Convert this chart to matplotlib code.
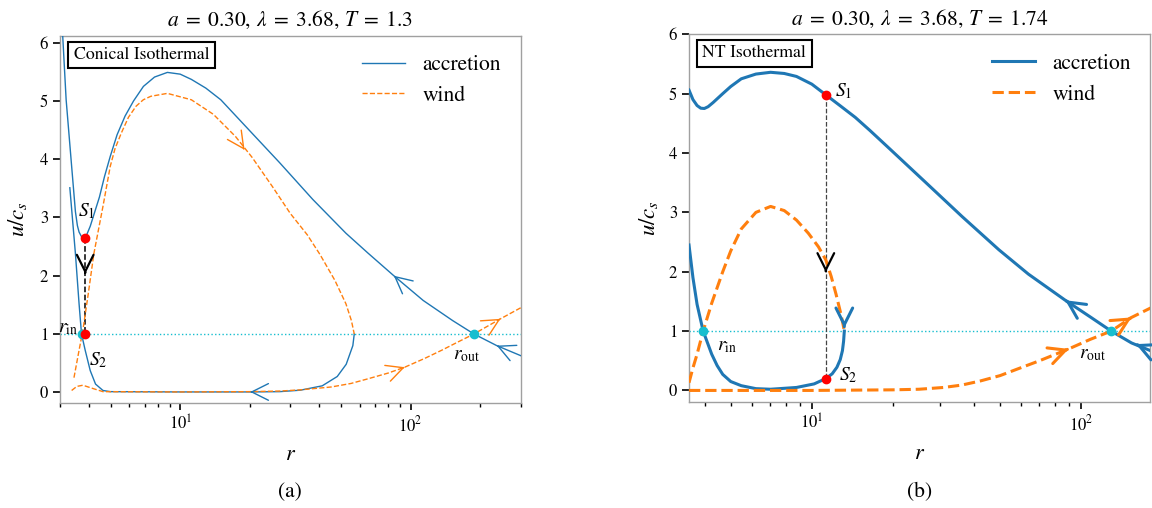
import numpy as np
import matplotlib
matplotlib.use('Agg')
import matplotlib.pyplot as plt

plt.rcParams['font.family'] = ['STIXGeneral', 'DejaVu Serif']
plt.rcParams['mathtext.fontset'] = 'stix'

# ---------------- panel (a): Conical Isothermal ----------------
a_title = r"$a\;=\;0.30,\,\lambda\;=\;3.68,\,T\;=\;1.3$"
a_box = "Conical Isothermal"
a_xlim = (3, 300)
a_ylim = (-0.19, 6.12)

a_acc1_r = [3.08, 3.19, 3.37, 3.50, 3.57, 3.63, 3.72, 3.81, 3.86, 4.06, 4.45, 4.68, 4.96, 5.31, 5.75,
            6.26, 6.91, 7.72, 8.78, 9.98, 11.16, 12.9, 14.98, 20.10, 26.98, 37.57, 52.33, 65.2, 84.5,
            113.4, 152.2, 188.3, 236.6, 304]
a_acc1_u = [6.14, 5.02, 3.88, 3.10, 2.86, 2.75, 2.67, 2.645, 2.64, 2.85, 3.35, 3.70, 4.05, 4.42, 4.74,
            5.00, 5.25, 5.41, 5.49, 5.46, 5.37, 5.22, 5.02, 4.48, 3.94, 3.31, 2.73, 2.39, 2.00,
            1.575, 1.23, 1.00, 0.80, 0.62]

a_acc2_r = [3.31, 3.50, 3.63, 3.72, 3.86, 4.06, 4.28, 4.61, 4.96, 10.0, 20.0, 26.98, 33.2, 41.3, 48.0,
            52.5, 56.1, 56.9]
a_acc2_u = [3.51, 2.38, 1.52, 1.00, 0.72, 0.37, 0.14, 0.03, 0.01, 0.005, 0.005, 0.01, 0.035, 0.11, 0.27,
            0.48, 0.80, 1.00]

a_wind1_r = [3.45, 3.63, 3.77, 3.98, 4.21, 4.61, 4.96, 5.2, 5.54, 5.95, 6.42, 6.9, 7.44, 8.78, 11.16,
             13.91, 17.35, 20.5, 25.1, 30.0, 35.6, 40.45, 46.88, 52.33, 55.3, 56.9]
a_wind1_u = [0.25, 0.72, 1.06, 1.69, 2.38, 3.19, 3.88, 4.18, 4.45, 4.72, 4.91, 5.02, 5.08, 5.13, 5.02,
             4.77, 4.39, 4.03, 3.53, 3.07, 2.70, 2.36, 1.92, 1.52, 1.23, 1.00]

a_wind2_r = [3.37, 3.55, 3.77, 4.2, 4.61, 10.0, 20.0, 26.98, 33.0, 45.17, 55.0, 65.2, 80.0, 94.3, 115.0,
             136.3, 160.0, 188.3, 245.5, 304]
a_wind2_u = [0.03, 0.10, 0.12, 0.06, 0.01, 0.005, 0.01, 0.02, 0.04, 0.09, 0.15, 0.23, 0.33, 0.43, 0.58,
             0.72, 0.86, 1.00, 1.26, 1.46]

a_S_r = [3.86, 3.86]
a_S_u = [2.64, 1.00]
a_sonic_r = [3.72, 188.3]
a_sonic_u = [1.0, 1.0]

# arrows: (tip_r, tip_u, from_r, from_u)
a_arrows_acc = [(84.5, 2.00, 100.0, 1.76), (236.6, 0.80, 270.0, 0.70), (20.1, 0.005, 24.0, 0.005)]
a_arrows_wind = [(19.0, 4.16, 17.35, 4.39), (94.3, 0.43, 80.0, 0.33), (245.5, 1.26, 220.0, 1.15)]
a_arrow_shock = (3.86, 2.03, 3.86, 2.30)

# ---------------- panel (b): NT Isothermal ----------------
b_title = r"$a\;=\;0.30,\,\lambda\;=\;3.68,\,T\;=\;1.74$"
b_box = "NT Isothermal"
b_xlim = (3.5, 180)
b_ylim = (-0.2, 6.0)

b_acc1_r = [3.50, 3.62, 3.75, 3.87, 3.99, 4.12, 4.30, 4.67, 5.0, 5.47, 6.2, 7.03, 7.9, 8.77, 10.0,
            11.27, 12.71, 14.50, 16.43, 19.25, 26.38, 36.11, 49.47, 63.65, 87.2, 108.7, 129.2, 153.7, 183]
b_acc1_u = [5.06, 4.90, 4.80, 4.755, 4.75, 4.78, 4.85, 5.00, 5.12, 5.25, 5.33, 5.36, 5.34, 5.29, 5.16,
            4.98, 4.80, 4.60, 4.38, 4.09, 3.51, 2.93, 2.37, 1.96, 1.52, 1.23, 1.00, 0.80, 0.66]

b_acc2_r = [3.50, 3.62, 3.75, 3.95, 4.25, 4.45, 4.67, 5.0, 5.47, 6.2, 7.03, 8.77, 10.2, 11.27, 11.9,
            12.39, 12.75, 12.99, 13.12, 13.20]
b_acc2_u = [2.45, 1.90, 1.45, 1.00, 0.61, 0.42, 0.27, 0.15, 0.08, 0.03, 0.02, 0.05, 0.11, 0.20, 0.28,
            0.39, 0.52, 0.67, 0.83, 1.00]

b_wind1_r = [3.50, 3.62, 3.75, 3.95, 4.25, 4.67, 5.0, 5.47, 6.2, 7.03, 7.9, 8.77, 9.7, 10.58, 11.27,
             11.8, 12.3, 12.8, 13.05, 13.20]
b_wind1_u = [0.13, 0.38, 0.61, 1.00, 1.47, 2.00, 2.35, 2.72, 3.00, 3.10, 3.03, 2.87, 2.65, 2.42, 2.20,
             1.92, 1.62, 1.30, 1.12, 1.00]

b_wind2_r = [3.50, 10.0, 20.0, 25.0, 30.84, 36.0, 42.27, 50.0, 57.91, 70.0, 89.9, 108.0, 129.2, 153.7, 183]
b_wind2_u = [0.00, 0.00, 0.01, 0.02, 0.05, 0.09, 0.16, 0.25, 0.36, 0.50, 0.70, 0.86, 1.00, 1.23, 1.40]

b_S_r = [11.27, 11.27]
b_S_u = [4.98, 0.20]
b_sonic_r = [3.95, 129.2]
b_sonic_u = [1.0, 1.0]

b_arrows_acc = [(87.2, 1.52, 108.7, 1.23), (159.6, 0.78, 175.0, 0.70), (13.20, 1.05, 13.20, 1.20)]
b_arrows_wind = [(89.9, 0.70, 75.0, 0.57), (153.7, 1.23, 140.0, 1.12)]
b_arrow_shock = (11.27, 1.99, 11.27, 2.30)

BLUE = '#1f77b4'
ORANGE = '#ff7f0e'
CYAN = '#17becf'

fig = plt.figure(figsize=(11.52, 5.08), dpi=100)
axA = fig.add_axes([60 / 1152, 1 - 403.3 / 508, 460.5 / 1152, 367.6 / 508])
axB = fig.add_axes([689 / 1152, 1 - 402.3 / 508, 461 / 1152, 368 / 508])


def add_arrow(ax, tip, frm, color, lw, ms, hl, hw):
    p1 = ax.transData.transform(tip)
    p0 = ax.transData.transform(frm)
    d = p1 - p0
    d = d / np.hypot(*d)
    tail = ax.transData.inverted().transform(p1 - d * 1.5)
    ax.annotate('', xy=tip, xytext=tail,
                arrowprops=dict(arrowstyle=f'->,head_length={hl},head_width={hw}',
                                color=color, lw=lw, mutation_scale=ms,
                                shrinkA=0, shrinkB=0, linestyle='-'))


def panel(ax, title, box, xlim, ylim, acc1, acc2, w1, w2, S, sonic,
          arr_acc, arr_wind, arr_shock, lw, shock_color, shock_lw, label_pos, letter, box_xy):
    ax.set_xscale('log')
    ax.set_xlim(*xlim)
    ax.set_ylim(*ylim)
    ax.axhline(1.0, color=CYAN, ls=':', lw=1.0, zorder=1)
    ax.plot(*acc1, color=BLUE, lw=lw, label='accretion', zorder=3)
    ax.plot(*acc2, color=BLUE, lw=lw, zorder=3)
    ax.plot(*w1, color=ORANGE, lw=lw, ls='--', label='wind', zorder=3)
    ax.plot(*w2, color=ORANGE, lw=lw, ls='--', zorder=3)
    ax.plot(S[0], S[1], color=shock_color, ls='--', lw=shock_lw, zorder=2)
    ax.plot(sonic[0], sonic[1], 'o', color=CYAN, ms=6, zorder=5)
    ax.plot(S[0], S[1], 'o', color='#ff0000', ms=6, zorder=6)
    for (tr, tu, fr, fu) in arr_acc:
        add_arrow(ax, (tr, tu), (fr, fu), BLUE, lw, 20, 0.6, 0.3)
    for (tr, tu, fr, fu) in arr_wind:
        add_arrow(ax, (tr, tu), (fr, fu), ORANGE, lw, 20, 0.6, 0.3)
    tr, tu, fr, fu = arr_shock
    add_arrow(ax, (tr, tu), (fr, fu), 'black', 1.6, 20, 0.6, 0.3)

    ax.set_title(title, fontsize=15.5, pad=7)
    ax.text(box_xy[0], box_xy[1], box, transform=ax.transAxes, fontsize=12.8, va='top', ha='left',
            bbox=dict(boxstyle='square,pad=0.3', fc='white', ec='black', lw=1.5), zorder=10)
    ax.legend(loc='upper right', frameon=False, fontsize=15.5)
    ax.set_xlabel(r'$r$', fontsize=16)
    ax.set_ylabel(r'$u/c_s$', fontsize=16.5)
    ax.xaxis.set_label_coords(0.5, -0.113)
    ax.set_yticks(range(0, 7))
    ax.tick_params(axis='both', which='major', direction='out', length=5, width=1.2,
                   labelsize=12, color='black')
    ax.tick_params(axis='both', which='minor', direction='out', length=3, width=1.0, color='black')
    for s in ax.spines.values():
        s.set_color('#a0a0a0')
        s.set_linewidth(1.0)
    for txt, (x, y, ha, va) in label_pos.items():
        ax.text(x, y, txt, fontsize=14, ha=ha, va=va, zorder=7)
    pos = ax.get_position()
    fig.text((pos.x0 + pos.x1) / 2, 1 - 492 / 508, letter, fontsize=15.5, ha='center', va='center')


panel(axA, a_title, a_box, a_xlim, a_ylim, (a_acc1_r, a_acc1_u), (a_acc2_r, a_acc2_u),
      (a_wind1_r, a_wind1_u), (a_wind2_r, a_wind2_u), (a_S_r, a_S_u), (a_sonic_r, a_sonic_u),
      a_arrows_acc, a_arrows_wind, a_arrow_shock, 1.0, 'black', 1.1,
      {r'$S_1$': (3.9, 3.1, 'center', 'center'), r'$S_2$': (4.4, 0.55, 'center', 'center'),
       r'$r_{\mathrm{in}}$': (3.25, 1.1, 'center', 'center'),
       r'$r_{\mathrm{out}}$': (175, 0.64, 'center', 'center')}, '(a)', (0.03, 0.969))
axA.yaxis.set_label_coords(-0.068, 0.5)

panel(axB, b_title, b_box, b_xlim, b_ylim, (b_acc1_r, b_acc1_u), (b_acc2_r, b_acc2_u),
      (b_wind1_r, b_wind1_u), (b_wind2_r, b_wind2_u), (b_S_r, b_S_u), (b_sonic_r, b_sonic_u),
      b_arrows_acc, b_arrows_wind, b_arrow_shock, 2.2, '#444444', 0.9,
      {r'$S_1$': (12.2, 5.05, 'left', 'center'), r'$S_2$': (12.6, 0.25, 'left', 'center'),
       r'$r_{\mathrm{in}}$': (4.45, 0.74, 'left', 'center'),
       r'$r_{\mathrm{out}}$': (98, 0.60, 'left', 'center')}, '(b)', (0.029, 0.97))
axB.yaxis.set_label_coords(-0.063, 0.5)

fig.savefig('out.png', dpi=100)
